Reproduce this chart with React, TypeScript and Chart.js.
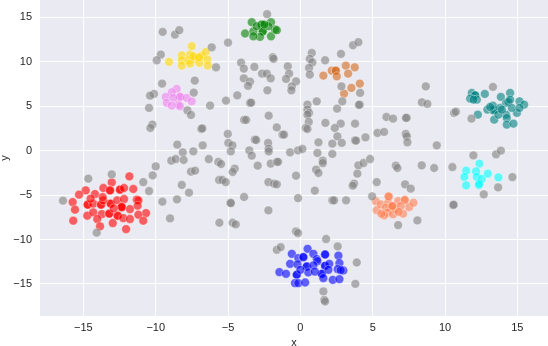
import React, { useEffect, useRef } from "react";
import { Chart, registerables } from "chart.js";

Chart.register(...registerables);

type P = [number, number];

const xTicks = [-15, -10, -5, 0, 5, 10, 15];
const yTicks = [-15, -10, -5, 0, 5, 10, 15];
const xRange = [-18.0, 17.12];
const yRange = [-18.6, 16.95];
const xTitle = "x";
const yTitle = "y";

const grayPts: P[] = [
  [-9.52, 13.36], [-8.67, 13.06], [-8.37, 13.55], [-9.65, 10.81], [-9.93, 10.17],
  [-6.13, 11.63], [-5.0, 12.16], [-5.83, 9.38], [-9.56, 7.55], [-7.3, 7.88],
  [-10.12, 6.38], [-10.39, 6.19], [-7.37, 6.53], [-10.46, 4.81], [-7.81, 4.54],
  [-7.56, 4.02], [-6.24, 5.07], [-10.23, 2.93], [-10.37, 2.55], [-6.85, 2.44],
  [-6.78, 2.5], [-8.51, 0.68], [-6.75, 0.6], [-8.13, -0.19], [-7.4, -0.08],
  [-8.92, -1.13], [-8.62, -0.94], [-8.07, -1.05], [-6.33, -0.94], [-5.67, -1.27],
  [-5.48, -1.5], [-10.0, -1.77], [-7.56, -2.36], [-7.28, -2.25], [-14.66, -3.15],
  [-13.04, -2.67], [-10.86, -3.53], [-10.21, -2.78], [-10.46, -4.54], [-16.41, -5.63],
  [-9.54, -5.74], [-8.53, -5.48], [-8.2, -3.86], [-7.7, -4.73], [-9.01, -7.62],
  [-14.08, -9.23], [-5.62, -3.3], [-5.39, -3.3], [-5.16, -3.53], [-4.84, -5.86],
  [-4.8, -5.9], [-3.89, -5.21], [-5.6, -8.11], [-4.68, -8.11], [-4.47, -8.3],
  [-2.3, 15.35], [-4.1, 9.91], [-3.91, 9.23], [-3.18, 9.42], [-2.65, 8.67],
  [-2.32, 8.67], [-2.05, 8.14], [-3.91, 8.14], [-3.48, 7.77], [-3.62, 7.29],
  [-5.14, 5.63], [-4.36, 6.23], [-2.28, 6.79], [-3.48, 5.37], [-3.4, 5.4],
  [-2.19, 3.94], [-3.89, 3.46], [-3.75, 3.46], [-5.02, 1.88], [-3.15, 1.24],
  [-3.05, 1.2], [-4.98, 0.87], [-4.7, 0.6], [-2.23, 0.87], [-4.81, -0.08],
  [-3.53, 0.03], [-3.36, -0.56], [-2.19, 0.22], [-2.19, -0.08], [-4.54, -2.03],
  [-4.68, -2.4], [-2.95, -1.69], [-2.05, -1.46], [-1.63, -1.27], [-1.54, -1.25],
  [-1.91, 10.51], [-1.85, 10.33], [-0.87, 9.49], [-0.78, 8.67], [-0.99, 8.07],
  [-0.3, 7.8], [-0.59, 7.24], [-0.62, 6.79], [0.79, 11.0], [0.65, 10.33],
  [0.83, 9.94], [0.6, 9.31], [0.65, 8.56], [1.71, 10.17], [2.81, 10.89],
  [3.64, 11.86], [4.01, 12.2], [2.84, 7.24], [4.13, 6.5], [2.9, 5.55],
  [4.11, 5.18], [4.05, 5.15], [1.13, 5.55], [0.49, 5.18], [0.49, 4.62],
  [0.6, 4.25], [0.49, 4.05], [2.54, 4.73], [0.58, 3.23], [1.73, 3.12],
  [3.78, 3.04], [2.79, 3.04], [2.38, 2.55], [0.37, 2.55], [0.49, 2.44],
  [-1.63, 2.62], [-1.24, 1.8], [-1.13, 1.8], [2.56, 1.61], [1.25, 0.94],
  [2.21, 0.79], [2.86, 0.87], [3.78, 1.16], [3.85, 1.12], [4.5, 1.5],
  [-0.71, -0.19], [-0.16, 0.03], [0.14, 0.19], [1.18, -0.26], [2.21, -0.37],
  [1.55, -1.13], [1.55, -1.39], [1.09, -2.14], [1.25, -2.51], [4.01, -1.65],
  [4.36, -1.39], [4.82, -0.94], [3.94, -2.59], [3.71, -3.72], [3.62, -3.94],
  [5.28, -3.53], [4.96, -5.14], [-2.21, -3.53], [-1.82, -3.72], [-1.63, -3.79],
  [-2.21, -6.72], [-0.3, -2.82], [-0.16, -5.33], [1.0, -4.5], [2.21, -5.59],
  [2.33, -5.59], [3.16, -5.59], [-0.3, -9.09], [-0.16, -9.27], [1.78, -9.94],
  [2.58, -10.77], [-1.63, -11.15], [-1.36, -10.85], [3.9, -12.58], [3.8, -14.98],
  [1.59, -15.84], [1.66, -16.78], [1.71, -16.97], [5.33, 1.99], [5.79, 2.11],
  [5.95, 3.79], [6.41, 3.6], [7.36, 3.68], [7.3, 3.7], [7.29, 1.88],
  [7.36, 1.61], [7.4, 0.94], [8.4, 5.44], [8.78, 5.26], [8.67, 7.24],
  [9.43, 0.6], [6.6, -1.69], [6.71, -1.95], [8.39, -1.65], [9.25, -1.95],
  [10.63, 4.25], [10.75, 4.39], [11.83, 3.6], [13.31, 7.17], [10.51, -1.84],
  [11.96, -0.53], [13.53, -0.41], [13.86, 0.0], [7.24, -3.79], [7.63, -4.28],
  [6.76, -8.37], [8.09, -7.85], [10.56, -6.12], [10.6, -6.08], [12.68, -4.92],
  [13.67, -4.13], [14.66, -2.97],
];

const goldPts: P[] = [
  [-7.51, 11.75], [-8.2, 10.73], [-7.63, 10.81], [-6.82, 10.7], [-6.54, 11.11],
  [-6.43, 10.25], [-9.08, 9.99], [-8.2, 10.17], [-7.74, 10.17], [-7.28, 10.33],
  [-6.98, 9.88], [-8.2, 9.57], [-7.63, 9.8], [-6.4, 9.57], [-7.4, 10.62], [-7.0, 10.5],
];

const violetPts: P[] = [
  [-8.55, 6.95], [-8.89, 6.57], [-9.31, 6.05], [-8.32, 6.05], [-8.32, 6.05],
  [-8.78, 5.93], [-7.86, 5.93], [-7.51, 5.55], [-9.24, 5.37], [-8.43, 5.18],
  [-8.32, 4.99], [-8.89, 5.07],
];

const greenPts: P[] = [
  [-3.36, 14.45], [-2.67, 14.19], [-2.67, 14.19], [-2.03, 14.45], [-3.82, 13.18],
  [-3.25, 13.43], [-2.6, 13.43], [-2.6, 13.43], [-2.79, 12.8], [-2.03, 12.87],
  [-1.75, 13.63], [-3.02, 14.0], [-2.21, 14.0], [-1.63, 13.55], [-3.25, 12.87],
  [-2.49, 14.19],
];

const chocolatePts: P[] = [
  [1.59, 8.45], [2.17, 9.01], [2.45, 9.01], [2.45, 9.01], [2.52, 8.37],
  [3.14, 9.57], [3.76, 9.38], [3.3, 8.67], [4.11, 7.55], [3.53, 7.06], [3.02, 6.42],
];

const tealPts: P[] = [
  [11.85, 6.5], [12.08, 6.23], [12.08, 6.23], [11.74, 5.86], [12.2, 5.74],
  [11.97, 5.74], [12.75, 6.38], [12.27, 4.05], [12.93, 4.62], [13.35, 4.54],
  [13.35, 4.54], [13.4, 4.6], [13.31, 5.07], [13.86, 6.05], [14.5, 6.5],
  [14.22, 5.37], [14.38, 5.48], [13.81, 4.81], [14.22, 4.05], [14.27, 3.68],
  [14.27, 2.93], [14.73, 3.04], [14.97, 4.25], [15.15, 5.55], [15.47, 5.18],
  [13.4, 3.49], [13.69, 4.05], [14.62, 4.81], [15.15, 4.81], [13.12, 4.92],
  [14.5, 5.74], [13.93, 4.62],
];

const cyanPts: P[] = [
  [12.38, -1.46], [11.46, -2.25], [11.34, -2.96], [12.15, -2.33], [12.2, -2.96],
  [12.54, -3.19], [12.38, -3.64], [12.34, -3.86], [12.96, -2.59], [13.69, -3.0],
  [11.46, -3.9],
];

const coralPts: P[] = [
  [5.21, -5.67], [5.28, -6.68], [5.56, -6.05], [6.13, -5.21], [6.07, -5.86],
  [6.25, -6.42], [5.91, -6.42], [6.02, -6.98], [5.79, -7.29], [6.41, -7.17],
  [6.76, -5.67], [7.22, -5.55], [7.22, -5.55], [7.52, -6.34], [7.82, -5.86],
  [7.1, -7.09], [6.6, -6.61], [6.94, -6.23], [6.36, -6.23], [6.36, -6.23],
  [6.09, -5.14], [5.6, -7.1], [6.8, -6.9],
];

const redPts: P[] = [
  [-11.82, -2.89], [-13.04, -3.57], [-13.62, -4.2], [-13.16, -4.47], [-13.16, -4.47],
  [-12.47, -4.39], [-12.47, -4.39], [-12.19, -4.2], [-11.55, -4.31], [-14.84, -4.47],
  [-15.3, -4.95], [-14.2, -4.88], [-15.74, -5.78], [-14.7, -6.08], [-14.7, -6.08],
  [-14.32, -5.97], [-13.78, -6.08], [-13.78, -6.08], [-13.11, -5.97], [-13.11, -5.97],
  [-12.66, -5.59], [-12.19, -5.44], [-13.62, -5.59], [-12.35, -6.34], [-12.35, -6.34],
  [-12.35, -6.34], [-11.31, -5.52], [-11.2, -5.6], [-11.78, -6.57], [-11.25, -6.19],
  [-10.67, -7.02], [-15.58, -6.64], [-14.73, -7.32], [-14.32, -6.94], [-13.73, -7.13],
  [-13.21, -7.09], [-13.21, -7.09], [-12.63, -7.32], [-12.63, -7.32], [-12.24, -7.58],
  [-11.78, -7.69], [-11.2, -7.21], [-10.86, -7.88], [-14.04, -7.69], [-15.7, -7.88],
  [-12.97, -8.14], [-13.85, -8.52], [-12.05, -8.82], [-13.67, -5.22], [-14.5, -5.4],
  [-12.9, -6.5],
];

const bluePts: P[] = [
  [0.5, -11.04], [-0.59, -11.6], [0.9, -11.6], [1.71, -11.68], [1.71, -11.68],
  [2.63, -11.82], [-0.14, -12.08], [0.21, -11.97], [0.21, -11.97], [1.13, -12.2],
  [-0.71, -12.73], [0.44, -13.03], [0.44, -13.03], [1.71, -12.95], [1.71, -12.95],
  [2.0, -12.73], [2.7, -12.65], [-1.45, -13.66], [-0.99, -13.85], [-0.25, -13.96],
  [-0.25, -13.96], [0.55, -13.7], [1.48, -13.85], [1.48, -13.85], [1.94, -13.4],
  [2.58, -13.32], [2.97, -13.48], [-0.37, -14.9], [-0.14, -14.9], [0.33, -14.83],
  [1.59, -14.34], [2.24, -14.53], [2.7, -14.45], [1.18, -12.42], [-0.2, -12.8],
  [0.9, -12.9], [0.0, -13.4], [1.0, -13.6], [2.79, -13.44],
];

const groups: { name: string; color: string; pts: P[] }[] = [
  { name: "gray", color: "128,128,128", pts: grayPts },
  { name: "gold", color: "255,215,0", pts: goldPts },
  { name: "violet", color: "238,130,238", pts: violetPts },
  { name: "green", color: "0,128,0", pts: greenPts },
  { name: "chocolate", color: "210,105,30", pts: chocolatePts },
  { name: "teal", color: "0,128,128", pts: tealPts },
  { name: "cyan", color: "0,255,255", pts: cyanPts },
  { name: "coral", color: "255,127,80", pts: coralPts },
  { name: "red", color: "255,0,0", pts: redPts },
  { name: "blue", color: "0,0,255", pts: bluePts },
];

const FONT = "'Liberation Sans', Arial, sans-serif";
const minus = (v: number) => String(v).replace("-", "\u2212");

const bgPlugin = {
  id: "bgPlugin",
  beforeDraw(chart: any) {
    const { ctx, chartArea } = chart;
    ctx.save();
    ctx.fillStyle = "#EAEAF2";
    ctx.fillRect(chartArea.left, chartArea.top, chartArea.right - chartArea.left, chartArea.bottom - chartArea.top);
    ctx.restore();
  },
};

const noPad = (s: any) => {
  s.paddingTop = 0;
  s.paddingBottom = 0;
  s.paddingLeft = 0;
  s.paddingRight = 0;
};

export default function App() {
  const ref = useRef<HTMLCanvasElement>(null);
  useEffect(() => {
    if (!ref.current) return;
    const chart = new Chart(ref.current, {
      type: "scatter",
      data: {
        datasets: groups.map((g) => ({
          label: g.name,
          data: g.pts.map(([x, y]) => ({ x, y })),
          backgroundColor: `rgba(${g.color},0.6)`,
          borderColor: "rgba(255,255,255,0.6)",
          borderWidth: 0.6,
          pointRadius: 4.4,
          pointHoverRadius: 4.4,
        })),
      },
      options: {
        animation: false,
        responsive: false,
        devicePixelRatio: 1,
        layout: { padding: 0, autoPadding: false },
        plugins: { legend: { display: false }, tooltip: { enabled: false } },
        scales: {
          x: {
            type: "linear",
            min: xRange[0],
            max: xRange[1],
            afterFit: (s: any) => { s.height = 30; noPad(s); },
            afterBuildTicks: (s: any) => { s.ticks = xTicks.map((v) => ({ value: v })); },
            grid: { color: "#ffffff", lineWidth: 1, drawTicks: false },
            border: { display: false },
            ticks: {
              includeBounds: false,
              padding: 5,
              color: "#262626",
              font: { family: FONT, size: 11 },
              callback: (v: any) => minus(v),
            },
            title: {
              display: true,
              text: xTitle,
              color: "#262626",
              font: { family: FONT, size: 11 },
              padding: { top: 0, bottom: -4 },
            },
          },
          y: {
            type: "linear",
            min: yRange[0],
            max: yRange[1],
            afterFit: (s: any) => { s.width = 40; noPad(s); },
            afterBuildTicks: (s: any) => { s.ticks = yTicks.map((v) => ({ value: v })); },
            grid: { color: "#ffffff", lineWidth: 1, drawTicks: false },
            border: { display: false },
            ticks: {
              includeBounds: false,
              padding: 8,
              color: "#262626",
              font: { family: FONT, size: 11 },
              callback: (v: any) => minus(v),
            },
            title: {
              display: true,
              text: yTitle,
              color: "#262626",
              font: { family: FONT, size: 11 },
              padding: { top: -2, bottom: 0 },
            },
          },
        },
      },
      plugins: [bgPlugin],
    } as any);
    return () => chart.destroy();
  }, []);
  return (
    <div style={{ position: "fixed", left: 0, top: 0, width: 548, height: 346 }}>
      <canvas ref={ref} width={548} height={346} />
    </div>
  );
}
